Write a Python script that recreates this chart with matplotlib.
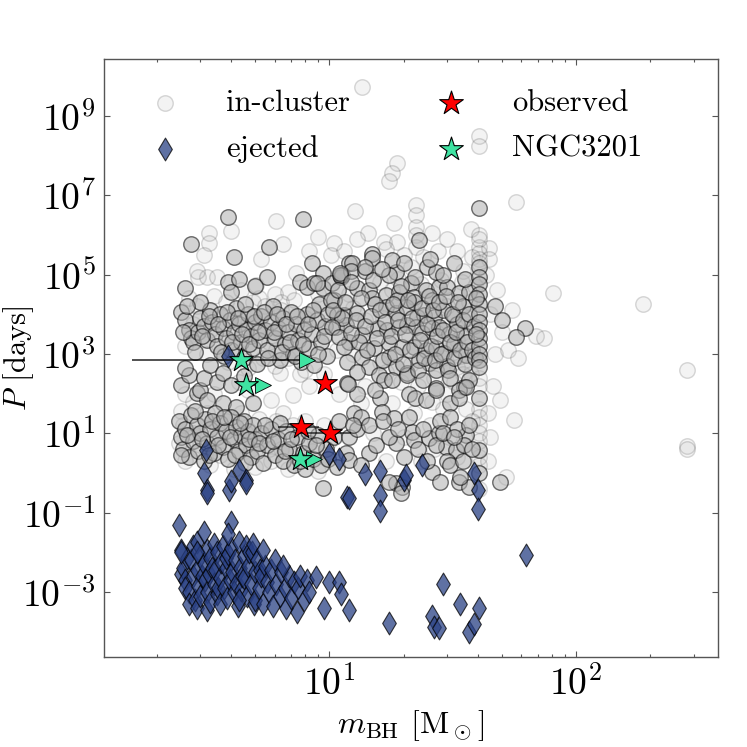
#!/usr/bin/env python3
"""BH binary periods vs BH mass: in-cluster, ejected, observed."""
import numpy as np
import matplotlib.pyplot as plt
from matplotlib.ticker import LogFormatterMathtext, NullLocator

plt.rcParams['font.family'] = 'serif'
plt.rcParams['font.serif'] = ['cmr10', 'DejaVu Serif']
plt.rcParams['mathtext.fontset'] = 'cm'
plt.rcParams['axes.unicode_minus'] = False

# (mass [Msun], log10 period [days])
incluster_bright = [
    (3.9, 6.44), (7.8, 6.39), (2.74, 5.76), (40.5, 6.67), (4.1, 5.43), (8.5, 5.28), (5.7, 5.69),
    (9.4, 5.03), (5.6, 4.95), (2.6, 4.65), (3.9, 4.8), (4.3, 4.9), (4.0, 4.55), (2.5, 4.05),
    (62, 3.64), (47, 4.2), (50, 3.85), (57, 3.42),
    (2.6, 3.85), (2.7, 3.6), (2.75, 3.4), (2.8, 3.3), (2.95, 3.55), (3.0, 3.9), (3.1, 3.7),
    (3.2, 3.35), (3.3, 4.1), (3.35, 3.8), (3.45, 3.5), (3.5, 3.2), (3.6, 4.0), (3.7, 3.65),
    (3.75, 2.95), (3.8, 3.4), (3.95, 3.85), (4.0, 3.1), (4.1, 3.55), (4.2, 4.15), (4.3, 3.75),
    (4.4, 3.3), (4.5, 2.9), (4.6, 3.6), (4.7, 4.0), (4.8, 3.45), (4.9, 3.15), (5.0, 3.8),
    (5.1, 2.75), (5.2, 3.35), (5.3, 3.95), (5.5, 3.6), (5.6, 3.1), (5.8, 3.8), (5.9, 4.2),
    (6.0, 3.4), (6.2, 3.65), (6.3, 2.85), (6.5, 3.9), (6.6, 3.25), (6.8, 3.55), (7.0, 4.05),
    (7.1, 3.0), (7.3, 3.75), (7.5, 3.35), (7.7, 2.8), (7.9, 3.6), (8.1, 4.0), (8.3, 3.15),
    (8.5, 3.5), (8.7, 2.71), (8.9, 3.85), (9.1, 4.25), (9.3, 3.3), (9.6, 3.7), (9.8, 2.95),
    (3.0, 4.3), (5.0, 4.7), (7.6, 4.8), (8.1, 4.68), (8.7, 4.78), (9.4, 4.65), (10.3, 4.78),
    (11.2, 4.95), (8.9, 4.78),
    (2.55, 3.55), (2.65, 4.2), (2.85, 3.05), (3.05, 3.45), (3.25, 3.95), (3.55, 3.75),
    (3.65, 3.05), (3.85, 4.05), (4.05, 3.3), (4.25, 3.9), (4.45, 3.5), (4.55, 4.25),
    (4.75, 3.25), (4.95, 3.95), (5.15, 3.55), (5.45, 4.05), (5.65, 2.9), (5.95, 3.55),
    (6.15, 4.0), (6.45, 3.05), (6.7, 3.75), (6.95, 3.3), (7.25, 2.95), (7.4, 3.95),
    (7.8, 3.25), (8.2, 3.75), (8.6, 4.1), (9.0, 3.0), (9.5, 3.45), (9.9, 4.0),
    (2.5, 2.21), (2.7, 2.46), (2.9, 2.01), (3.0, 2.08), (3.1, 2.38), (3.3, 2.71), (3.5, 2.28),
    (3.7, 2.51), (4.0, 2.21), (3.7, 1.76), (4.2, 1.66), (4.9, 1.76), (2.6, 2.65), (4.5, 2.45),
    (3.2, 1.85),
    (2.45, 1.3), (2.5, 0.9), (2.55, 0.6), (2.6, 1.1), (2.7, 0.4), (2.75, 1.45), (2.8, 0.8),
    (2.9, 1.2), (2.95, 0.55), (3.0, 1.0), (3.1, 0.3), (3.15, 1.35), (3.2, 0.75), (3.3, 1.1),
    (3.4, 0.5), (3.45, 1.5), (3.5, 0.9), (3.6, 1.25), (3.7, 0.65), (3.8, 1.05), (3.9, 0.35),
    (4.0, 1.4), (4.1, 0.85), (4.2, 1.15), (4.3, 0.55), (4.4, 0.95), (4.5, 1.3), (4.6, 0.7),
    (4.7, 1.05), (4.8, 0.4), (4.9, 1.2), (5.0, 0.85), (5.1, 0.55), (5.3, 1.0), (5.4, 0.25),
    (5.6, 0.7), (5.8, 1.1), (6.0, 0.45), (6.2, 0.85), (6.5, 0.3), (6.7, 1.05), (6.9, 0.6),
    (7.2, 0.2), (7.4, 0.9), (7.8, 0.5), (8.0, 0.1), (8.3, 0.75), (8.6, 0.35), (9.0, 0.95),
    (9.3, 0.2), (9.7, 0.6), (9.4, -0.39),
    (2.5, 0.45), (2.65, 0.95), (2.85, 1.55), (3.05, 0.85), (3.25, 0.45), (3.35, 1.3),
    (3.55, 0.7), (3.75, 1.4), (3.95, 0.9), (4.15, 0.45), (4.35, 1.25), (4.55, 0.25),
    (4.75, 0.85), (5.2, 0.75), (5.5, 1.2), (5.9, 0.8), (6.3, 1.25), (6.6, 0.55), (7.0, 0.85),
    (7.6, 0.3), (8.2, 1.05), (8.8, 0.7), (9.9, 0.35), (10.5, 0.9), (11, 1.3), (10.8, 0.15),
    (12.0, 5.3), (12.4, 5.28), (11.3, 4.98), (12.2, 5.1), (13.9, 5.1), (18.7, 5.06),
    (24.9, 5.18), (27, 5.06), (32, 5.3), (14.9, 5.53), (14.9, 5.41), (18.0, 5.36), (23.1, 5.86),
    (13, 4.65), (14.5, 4.6), (14.9, 4.4), (17, 4.48), (19.2, 4.55), (21.4, 4.78), (22, 4.43),
    (24.7, 4.6), (26, 4.35), (27.9, 4.68), (30, 4.68), (33.6, 4.53), (37, 4.55),
    (10.5, 4.35), (11.5, 3.97), (13, 4.02), (17, 4.17), (18.7, 4.02), (20.5, 4.17),
    (22.7, 3.92), (24.2, 3.97), (26.6, 3.92), (22.1, 4.3), (18.9, 4.35), (15.3, 4.25),
    (29, 4.1), (32, 3.95), (35, 4.2),
    (10.7, 3.67), (11.7, 3.72), (13.6, 3.47), (15.7, 3.64), (17.2, 3.6), (19.2, 3.67),
    (20.7, 3.72), (22.5, 3.67), (23.8, 3.52), (26, 3.64), (27.9, 3.67), (30.5, 3.5),
    (33, 3.75), (36, 3.45),
    (12, 3.29), (13.2, 3.29), (15.2, 3.14), (17.5, 3.27), (19.8, 3.17), (22, 3.17),
    (24.7, 3.09), (27, 3.14), (29.3, 3.02), (35.8, 2.96), (32, 3.25),
    (11.8, 2.79), (13.6, 2.91), (14.5, 2.66), (15.9, 2.46), (17.5, 2.91), (18.7, 2.66),
    (20.7, 2.51), (23.1, 2.84), (25.4, 2.76), (27, 2.59), (30, 2.7),
    (11.8, 2.26), (16.7, 2.33), (20.7, 2.46), (27, 2.13), (35.3, 2.16), (33.6, 2.08),
    (13, 2.0), (16, 1.9), (21, 2.0),
    (11.1, 4.98), (10.2, 4.35), (10.8, 3.97), (11.3, 3.9), (10.3, 3.67), (11, 3.42),
    (12.2, 3.52), (11.5, 3.17), (11.1, 5.05),
    (10.4, 4.1), (10.9, 4.6), (11.6, 4.3), (12.3, 4.8), (12.8, 3.85), (13.4, 4.4),
    (13.9, 3.7), (14.2, 3.1), (14.7, 3.95), (15.1, 4.85), (15.6, 3.4), (16.1, 4.1),
    (16.5, 2.85), (16.9, 3.8), (17.4, 5.0), (17.8, 3.45), (18.2, 4.25), (18.5, 3.0),
    (19.0, 3.85), (19.5, 4.7), (19.9, 2.75), (20.3, 3.5), (20.8, 4.35), (21.2, 3.1),
    (21.7, 3.9), (22.3, 4.95), (22.8, 2.6), (23.3, 3.35), (23.7, 4.15), (24.3, 2.9),
    (24.8, 3.75), (25.3, 4.45), (25.8, 3.2), (26.3, 4.1), (26.8, 2.85), (27.4, 3.45),
    (27.9, 4.3), (28.5, 3.0), (29.0, 3.6), (29.6, 4.45), (30.2, 2.6), (30.8, 3.3),
    (31.4, 4.0), (32.1, 2.9), (32.7, 3.55), (33.4, 4.3), (34.0, 3.1), (34.7, 3.85),
    (35.4, 2.75), (36.2, 3.3), (37.0, 4.0), (37.8, 3.1), (38.6, 3.7), (39.0, 2.9),
    (14.0, 5.2), (16.3, 5.15), (20.0, 5.3), (25.6, 5.4), (29, 5.0), (35.5, 4.9),
    (12.9, 2.55), (18.0, 2.35), (24, 2.35), (31, 2.4), (37, 2.35), (15.3, 2.1),
    (40.5, 5.18), (40.5, 4.95), (40.5, 4.75), (40.5, 4.5), (40.5, 4.25), (40.5, 4.0),
    (40.5, 3.8), (40.5, 3.6), (40.5, 3.4), (40.5, 3.2), (40.5, 3.0), (40.5, 2.85),
    (40.5, 2.66), (40.5, 1.9), (40.5, 0.57), (40.5, 0.0), (39.5, 4.4), (39.5, 3.5),
    (11.9, 2.23), (12.6, 1.5), (16.4, 1.53), (18.3, 1.38), (22.3, 1.88), (24.7, 1.83),
    (27, 2.08), (31, 1.76), (33.6, 1.88), (36, 2.16),
    (21.7, 1.03), (22.1, 0.82), (25.4, 0.87), (27.9, 1.0), (29.7, 0.65), (32.7, 0.57),
    (36, 0.95), (35.3, 0.7), (18.7, 0.75), (14.5, 0.5), (18.7, -0.26), (19.7, -0.36),
    (17.5, -0.23), (26, 0.02), (28, -0.23), (33.6, -0.23), (37, -0.36), (49, -0.23),
    (12, 0.9), (13, 1.1), (13.5, 1.4), (12.5, 1.2), (11.7, 0.5), (12, 0.32), (28, 1.3),
    (31, 1.4), (33, 1.1), (30, 0.3), (34, -0.1), (19.5, -0.5),
    (13.5, 0.2), (14.5, 1.2), (15.5, 0.7), (16.5, 1.3), (17.5, 0.9), (19, 1.1), (20, 0.4),
    (21, 1.4), (23, 0.6), (24, 1.1), (25, 0.3), (27, 0.7), (29, 1.0), (31, 0.2), (32, 0.9),
    (35, 0.3), (37, 1.2), (38, 0.6),
]

incluster_faint = [
    (13.6, 9.72), (40.5, 8.48), (40.5, 8.25), (18.8, 7.8), (18.0, 7.55), (17.5, 7.35),
    (57, 6.84), (12.7, 6.6), (22.5, 6.74), (22.5, 6.49), (18.3, 6.31), (14.3, 6.04),
    (16.7, 5.81), (18.8, 5.81), (26, 6.04), (37.5, 6.16), (10.5, 5.79), (40.5, 5.7),
    (44.5, 5.66), (44.5, 5.4), (38, 5.43), (6.1, 6.34), (3.27, 6.04), (3.27, 5.79),
    (6.5, 5.76), (2.95, 4.95), (3.2, 4.95), (3.5, 4.95), (5.07, 4.73), (7.35, 5.03),
    (81, 4.53), (187, 4.27), (282, 2.6), (282, 0.67), (282, 0.6), (56, 1.33), (50, 3.54),
    (69, 3.44), (74, 3.39), (49, 1.83), (52, -0.1), (4.0, 6.1), (2.9, 5.1), (3.1, 5.5),
    (5.3, 5.4), (8.3, 5.6), (9.0, 5.95),
    (40.5, 6.0), (40.5, 5.9), (40.5, 5.55), (40.5, 5.4), (40.5, 5.3), (40.5, 2.4),
    (40.5, 2.2), (40.5, 1.6), (40.5, 1.4), (40.5, 1.2), (40.5, 1.0), (40.5, 0.8),
    (40.5, 0.4), (40.5, 0.2), (40.5, -0.4), (22.5, 6.2), (22.5, 6.0), (22.5, 5.7),
    (2.7, 4.4), (2.9, 4.2), (3.4, 4.45), (3.8, 4.3), (4.4, 4.6), (5.2, 4.4), (5.5, 4.2),
    (6.0, 4.5), (6.4, 4.3), (6.8, 4.55), (7.2, 4.35), (2.6, 3.2), (3.2, 3.0), (3.9, 2.8),
    (4.7, 2.65), (5.4, 2.9), (6.0, 2.7), (6.8, 2.9), (7.6, 2.5), (2.8, 3.75), (3.3, 3.6),
    (4.1, 3.9), (4.9, 4.3), (5.7, 3.3), (6.4, 4.1), (7.2, 3.5), (8.0, 2.6), (4.3, 3.05),
    (5.2, 3.7), (6.1, 3.1),
    (6.3, 2.51), (7.1, 1.96), (5.8, 1.85), (8.3, 2.2), (4.7, 2.1), (2.8, 1.8), (3.4, 2.0),
    (4.3, 2.3), (2.6, 2.0), (6.5, 1.5),
    (2.5, 1.55), (2.6, 0.3), (2.8, 1.0), (3.0, 0.7), (3.2, 1.5), (3.3, 0.2), (3.6, 0.45),
    (3.8, 1.3), (4.1, 0.1), (4.4, 1.5), (4.6, 1.0), (5.0, 0.15), (5.2, 1.35), (5.5, 0.95),
    (5.8, 0.3), (6.1, 1.3), (6.4, 0.6), (6.8, 0.1), (7.1, 1.2), (7.6, 0.75), (8.0, 1.3),
    (8.5, 0.55), (9.0, 0.05), (9.5, 1.2), (10, 0.8), (2.45, 0.75), (2.55, 1.2), (3.5, 1.1),
    (4.8, 0.6), (5.7, 0.6),
    (10.2, 5.5), (11.5, 5.6), (13, 5.9), (15.5, 5.2), (17, 5.65), (20, 5.5), (21.5, 5.2),
    (24, 5.45), (27.5, 5.6), (30, 5.9), (33, 5.6), (35, 5.1), (12, 4.5), (16, 4.8),
    (19, 4.9), (23.5, 4.75), (28.5, 4.85), (31, 4.35), (34.5, 4.8), (37, 4.3), (14, 3.85),
    (16.5, 3.9), (21, 3.45), (25, 3.3), (28.5, 3.8), (31.5, 3.2), (34.5, 3.52), (38, 3.7),
    (12.5, 3.0), (16, 2.8), (19.5, 2.3), (23, 2.2), (26.5, 2.4), (29, 2.9), (34, 2.94),
    (33, 2.66), (37.5, 2.5), (14, 2.2), (18, 1.75), (22, 1.5), (25.5, 1.2), (29, 1.6),
    (32, 2.3), (36, 1.6), (44, 1.5), (45, 0.9), (44, 0.3), (15, 1.0), (17, 0.3), (20, 0.9),
    (23.5, 0.3), (26.5, 0.6), (30.5, 0.9), (33, 0.4), (38, 1.3), (46, 2.2), (47, 3.0),
    (45, 4.0), (48, 4.6), (43, 5.0), (53, 3.1), (58, 2.9), (55, 4.1),
    (11, 2.0), (13.5, 1.75), (17, 2.55), (21.5, 2.75), (26, 1.8), (30, 2.0), (35, 2.5),
    (12.5, 4.15), (15, 3.6), (18, 4.6), (21, 4.05), (24.5, 4.25), (27, 3.55), (30, 4.2),
    (33, 3.35), (36.5, 3.9), (39, 4.7), (10.8, 3.1), (9.5, 2.5), (9.0, 4.5), (8.0, 3.9),
]

ejected = [
    (2.45, -1.3), (2.5, -1.95), (2.5, -2.55), (2.55, -2.4), (2.6, -2.7), (2.6, -2.9),
    (2.65, -2.15), (2.7, -3.0), (2.7, -3.3), (2.75, -2.2), (2.8, -2.6), (2.8, -1.85),
    (2.85, -3.2), (2.9, -1.75), (2.9, -2.45), (2.9, -3.4), (2.95, -2.85), (3.0, -3.1),
    (3.0, -2.1), (3.05, -2.6), (3.1, -1.5), (3.1, -2.3), (3.15, -2.7), (3.2, -3.0),
    (3.2, -1.95), (3.2, -3.45), (3.25, -2.55), (3.3, -3.25), (3.3, -2.15), (3.35, -2.4),
    (3.4, -2.8), (3.4, -1.8), (3.45, -2.45), (3.5, -3.05), (3.5, -2.0), (3.55, -2.9),
    (3.6, -2.65), (3.6, -3.3), (3.65, -2.25), (3.7, -1.85), (3.75, -2.9), (3.8, -2.4),
    (3.8, -2.15), (3.85, -3.15), (3.9, -2.05), (3.95, -2.7), (4.0, -1.24), (4.0, -1.9),
    (4.05, -2.5), (4.1, -3.0), (4.15, -2.2), (4.2, -2.8), (4.25, -3.35), (4.3, -1.75),
    (4.35, -2.4), (4.4, -2.95), (4.45, -2.6), (4.5, -2.1), (4.5, -2.65), (4.6, -1.85),
    (4.65, -3.1), (4.7, -2.35), (4.75, -2.0), (4.8, -2.8), (4.85, -2.0), (4.9, -1.8),
    (4.95, -3.3), (5.0, -2.5), (5.0, -3.2), (5.1, -2.2), (5.2, -2.9), (5.25, -2.45),
    (5.3, -2.6), (5.4, -3.3), (5.5, -2.35), (5.6, -2.75), (5.7, -3.0), (5.8, -2.45),
    (5.9, -3.35), (6.0, -2.2), (6.1, -2.8), (6.3, -3.1), (6.4, -2.5), (6.6, -2.9),
    (6.7, -3.4), (6.9, -2.6), (7.0, -3.15), (7.2, -2.75), (7.4, -3.5), (7.5, -2.9),
    (7.6, -2.6), (7.9, -3.2), (8.1, -2.7), (8.3, -3.0), (8.8, -2.62), (9.5, -3.4),
    (10.0, -2.75), (11.0, -2.75), (11.2, -3.05), (12.0, -3.45), (2.5, -2.0), (3.9, -1.55),
    (2.9, -2.0), (4.3, -3.2), (5.4, -1.95), (6.5, -2.35),
    (3.17, 0.57), (3.1, 0.0), (3.2, -0.44), (3.94, -0.44), (4.3, 0.07), (4.6, -0.18),
    (3.2, -0.5), (4.0, -0.2), (4.6, -0.25), (3.9, 2.94), (10.0, 0.47), (11.0, 0.35),
    (14.0, -0.03), (16.0, 0.04), (20.0, -0.18), (23.8, 0.19), (11.8, -0.6), (16.0, -0.56),
    (16.0, -0.95), (38.7, 0.0), (40.0, -0.44), (40.0, -0.9), (12.0, -0.64), (63, -2.07),
    (28.9, -2.8), (34, -3.3), (40.5, -3.4), (17.4, -3.79), (26, -3.6), (26.5, -3.87),
    (27.9, -3.9), (37, -4.0), (38.5, -3.8), (20.5, -0.05),
]

# observed BH binaries: mass, period [days], mass range
m_obs = [9.6, 7.7, 10.1]
P_obs = [186, 14.4, 10.0]
m_obs_lo = [9.0, 6.2, 7.6]
m_obs_hi = [10.3, 9.1, 12.2]

# NGC 3201 detections: m sin i, period [days], error low end, arrow tip
m_ngc = [4.4, 4.6, 7.6]
P_ngc = [720, 167, 2.24]
m_ngc_lo = [1.58, 4.6, 7.6]
m_ngc_arrow = [8.15, 5.4, 8.7]

m_b, lp_b = np.array(incluster_bright).T
m_f, lp_f = np.array(incluster_faint).T
m_e, lp_e = np.array(ejected).T

fig = plt.figure(figsize=(7.47, 7.47), dpi=100)
ax = fig.add_axes([0.139, 0.1205, 0.822, 0.8005])

ax.scatter(m_f, 10**lp_f, s=125, facecolor='#b0b0b0', edgecolor='k',
           linewidth=1, alpha=0.15, zorder=1, label='in-cluster')
ax.scatter(m_b, 10**lp_b, s=125, facecolor='#b0b0b0', edgecolor='k',
           linewidth=1, alpha=0.55, zorder=2)
ax.scatter(m_e, 10**lp_e, s=135, marker='d', facecolor='#2a4185', edgecolor='k',
           linewidth=0.8, alpha=0.75, zorder=3, label='ejected')

ax.hlines(P_obs, m_obs_lo, m_obs_hi, color='k', lw=1.2, alpha=0.7, zorder=4)
ax.scatter(m_obs, P_obs, s=320, marker='*', facecolor='red', edgecolor='k',
           linewidth=0.8, zorder=5, label='observed')

ax.hlines(P_ngc, m_ngc_lo, m_ngc_arrow, color='k', lw=1.2, alpha=0.8, zorder=4)
ax.plot(m_ngc_arrow, P_ngc, ls='none', marker='>', ms=12, mfc='#3fe3a2',
        mec='k', mew=0.6, zorder=5)
ax.scatter(m_ngc, P_ngc, s=320, marker='*', facecolor='#3fe3a2', edgecolor='k',
           linewidth=0.8, zorder=6, label='NGC3201')

ax.set_xscale('log')
ax.set_yscale('log')
ax.set_xlim(1.22, 376)
ax.set_ylim(2.3e-5, 2.7e10)
ax.set_yticks([10.0**k for k in range(-3, 10, 2)])
ax.yaxis.set_major_formatter(LogFormatterMathtext())
ax.yaxis.set_minor_locator(NullLocator())

ax.tick_params(which='both', direction='in', top=True, right=True,
               colors='#555555', labelcolor='k', labelsize=27, width=0.8)
ax.tick_params(which='major', length=4, pad=6)
ax.tick_params(which='minor', length=2.5)
for sp in ax.spines.values():
    sp.set_color('#555555')
    sp.set_linewidth(1.0)

ax.set_xlabel(r'$m_{\rm BH}$ [M$_\odot$]', fontsize=23)
ax.set_ylabel(r'$P$ [days]', fontsize=22)
ax.xaxis.set_label_coords(0.5, -0.085)
ax.yaxis.set_label_coords(-0.11, 0.5)

ax.legend(loc='upper left', ncol=2, frameon=False, fontsize=22, scatterpoints=1,
          handletextpad=1.0, columnspacing=2.3, labelspacing=0.6,
          borderaxespad=0.6)

plt.savefig('out.png', dpi=100)
print("Generated: out.png")
